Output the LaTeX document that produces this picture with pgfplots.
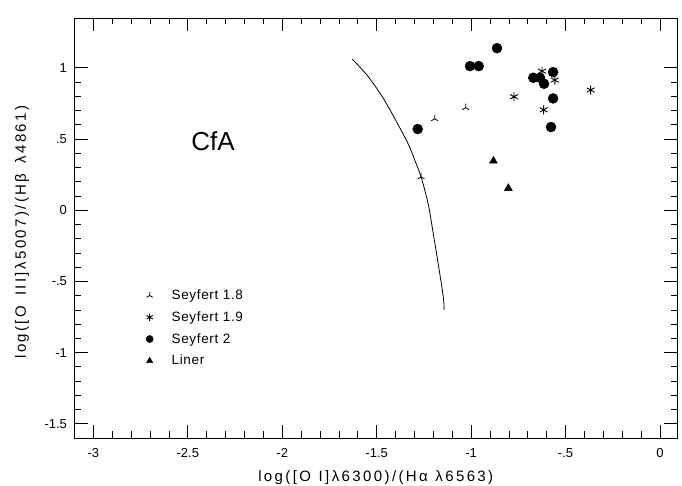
\documentclass[border=0pt]{standalone}
\usepackage{fontspec}
\setmainfont{Liberation Sans}
\newfontfamily\labelfont[LetterSpace=16]{Liberation Sans}
\newfontfamily\legfont[LetterSpace=5]{Liberation Sans}
\usepackage{pgfplots}
\pgfplotsset{compat=1.18}
\usetikzlibrary{plotmarks}

\pgfplotsset{
  legmark/.style={legend image code/.code={%
    \pgfpathmoveto{\pgfpoint{0cm}{0cm}}%
    \pgfpathlineto{\pgfpoint{0.8cm}{0cm}}%
    \pgfusepath{discard}%
    \draw[##1, /tikz/only marks, mark size=3.6pt]
      plot coordinates {(0.1cm,0cm)};}},
}

\begin{document}
\begin{tikzpicture}
\begin{axis}[
  scale only axis,
  width=602.5pt, height=420pt,
  at={(0pt,0pt)}, anchor=south west,
  xmin=-3.1, xmax=0.09,
  ymin=-1.6, ymax=1.35,
  xtick={-3,-2.5,-2,-1.5,-1,-0.5,0},
  xticklabels={-3,-2.5,-2,-1.5,-1,-.5,0},
  ytick={-1.5,-1,-0.5,0,0.5,1},
  yticklabels={-1.5,-1,-.5,0,.5,1},
  minor x tick num=4, minor y tick num=4,
  tick align=inside,
  major tick length=13pt, minor tick length=6.5pt,
  every tick/.style={black, line width=0.7pt},
  axis line style={line width=0.8pt},
  ticklabel style={font=\fontsize{13}{15}\selectfont},
  xticklabel style={yshift=-7pt},
  yticklabel style={xshift=-4pt},
  xlabel={\labelfont log([O\enspace I]λ6300)/(Hα\enspace λ6563)},
  ylabel={\labelfont log([O\enspace\,III]λ5007)/(Hβ\enspace\,λ4861)},
  xlabel style={at={(axis description cs:0.5,-0.0952)}, anchor=center},
  ylabel style={at={(axis description cs:-0.0871,0.49)}, anchor=center},
  label style={font=\fontsize{15}{17}\selectfont},
  legend style={draw=none, fill=none, at={(axis cs:-2.738,-0.53)},
    anchor=north west, font=\legfont\fontsize{13.5}{16}\selectfont,
    row sep=6.5pt},
  legend cell align=left,
]
% photoionization model track
\addplot[black, line width=0.8pt, smooth, tension=0.5, forget plot] coordinates {
  (-1.629,1.061) (-1.546,0.940) (-1.456,0.766) (-1.341,0.486)
  (-1.297,0.346) (-1.265,0.234) (-1.227,0.042) (-1.200,-0.168)
  (-1.174,-0.379) (-1.147,-0.613) (-1.143,-0.699)
};
% Seyfert 1.8
\addplot[only marks, legmark, mark=Mercedes star, mark size=4pt, black, line width=0.8pt] coordinates {
  (-1.029,0.720) (-1.193,0.642) (-1.265,0.234)
};
\addlegendentry{Seyfert 1.8}
% Seyfert 1.9
\addplot[only marks, legmark, mark=asterisk, mark size=4.5pt, black, line width=0.9pt] coordinates {
  (-0.625,0.977) (-0.557,0.914) (-0.773,0.797) (-0.616,0.705) (-0.367,0.844)
};
\addlegendentry{Seyfert 1.9}
% Seyfert 2
\addplot[only marks, legmark, mark=*, mark size=5pt, black] coordinates {
  (-0.863,1.138) (-1.006,1.012) (-0.960,1.012) (-0.671,0.930)
  (-0.635,0.930) (-0.614,0.888) (-0.566,0.970) (-0.566,0.785)
  (-0.577,0.584) (-1.283,0.570)
};
\addlegendentry{Seyfert 2}
% Liners
\addplot[only marks, legmark, mark=triangle*, mark size=4.6pt, black] coordinates {
  (-0.882,0.346) (-0.803,0.154)
};
\addlegendentry{Liner}
\node[font=\fontsize{26}{30}\selectfont] at (axis cs:-2.366,0.486) {CfA};
\end{axis}
\pgfresetboundingbox
\path[use as bounding box] (-74.5pt,-48pt) rectangle (607.5pt,438pt);
\end{tikzpicture}
\end{document}
